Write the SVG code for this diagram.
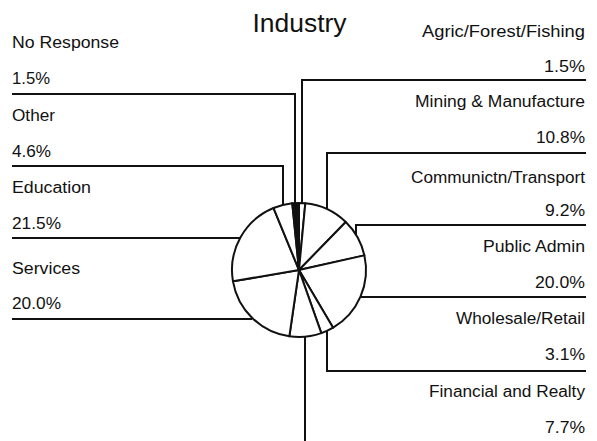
<svg xmlns="http://www.w3.org/2000/svg" width="597" height="441" viewBox="0 0 597 441">
<style>
text{font-family:"Liberation Sans",Arial,sans-serif;font-size:16px;fill:#111}
.t{font-size:26px}
.r{text-anchor:end}
.s{fill:#fff;stroke:#111;stroke-width:2;stroke-linejoin:round}
.k{fill:#111;stroke:#111;stroke-width:2}
.c{fill:none;stroke:#111;stroke-width:2}
</style>
<rect width="597" height="441" fill="#fff"/>
<text class="t" x="299.5" y="32" text-anchor="middle" textLength="94" lengthAdjust="spacingAndGlyphs">Industry</text>
<g id="connectors">
<polyline class="c" points="12,94 295,94 295,204"/>
<polyline class="c" points="12,166 283,166 283,206"/>
<polyline class="c" points="12,238 240,238"/>
<polyline class="c" points="12,319 252,319"/>
<polyline class="c" points="586,80 302,80 302,203.5"/>
<polyline class="c" points="586,153 327,153 327,209"/>
<polyline class="c" points="586,225 356,225 356,235"/>
<polyline class="c" points="586,297 361,297"/>
<polyline class="c" points="586,371 327,371 327,331"/>
<polyline class="c" points="305,337 305,441"/>
</g>
<g id="agric">
<path class="s" d="M299,270 L299,203 A67,67 0 0 1 305.31,203.30 Z"/>
<text class="r" x="585" y="37" textLength="163" lengthAdjust="spacingAndGlyphs">Agric/Forest/Fishing</text>
<text class="r" x="585" y="72" textLength="41" lengthAdjust="spacingAndGlyphs">1.5%</text>
</g>
<g id="mining">
<path class="s" d="M299,270 L305.31,203.30 A67,67 0 0 1 345.77,222.03 Z"/>
<text class="r" x="585" y="107" textLength="170" lengthAdjust="spacingAndGlyphs">Mining &amp; Manufacture</text>
<text class="r" x="585" y="143" textLength="49" lengthAdjust="spacingAndGlyphs">10.8%</text>
</g>
<g id="communication">
<path class="s" d="M299,270 L345.77,222.03 A67,67 0 0 1 364.39,255.39 Z"/>
<text class="r" x="585" y="183" textLength="174" lengthAdjust="spacingAndGlyphs">Communictn/Transport</text>
<text class="r" x="585" y="216" textLength="40" lengthAdjust="spacingAndGlyphs">9.2%</text>
</g>
<g id="public-admin">
<path class="s" d="M299,270 L364.39,255.39 A67,67 0 0 1 333.10,327.67 Z"/>
<text class="r" x="585" y="252" textLength="102" lengthAdjust="spacingAndGlyphs">Public Admin</text>
<text class="r" x="585" y="288" textLength="50" lengthAdjust="spacingAndGlyphs">20.0%</text>
</g>
<g id="wholesale">
<path class="s" d="M299,270 L333.10,327.67 A67,67 0 0 1 321.30,333.18 Z"/>
<text class="r" x="585" y="324" textLength="129" lengthAdjust="spacingAndGlyphs">Wholesale/Retail</text>
<text class="r" x="585" y="360" textLength="40" lengthAdjust="spacingAndGlyphs">3.1%</text>
</g>
<g id="financial">
<path class="s" d="M299,270 L321.30,333.18 A67,67 0 0 1 289.35,336.30 Z"/>
<text class="r" x="585" y="397" textLength="156" lengthAdjust="spacingAndGlyphs">Financial and Realty</text>
<text class="r" x="585" y="433" textLength="40" lengthAdjust="spacingAndGlyphs">7.7%</text>
</g>
<g id="services">
<path class="s" d="M299,270 L289.35,336.30 A67,67 0 0 1 232.96,281.31 Z"/>
<text x="12" y="274" textLength="68" lengthAdjust="spacingAndGlyphs">Services</text>
<text x="12" y="309" textLength="49" lengthAdjust="spacingAndGlyphs">20.0%</text>
</g>
<g id="education">
<path class="s" d="M299,270 L232.96,281.31 A67,67 0 0 1 273.55,208.02 Z"/>
<text x="12" y="193" textLength="79" lengthAdjust="spacingAndGlyphs">Education</text>
<text x="12" y="229" textLength="49" lengthAdjust="spacingAndGlyphs">21.5%</text>
</g>
<g id="other">
<path class="s" d="M299,270 L273.55,208.02 A67,67 0 0 1 292.28,203.34 Z"/>
<text x="12" y="121" textLength="43" lengthAdjust="spacingAndGlyphs">Other</text>
<text x="12" y="157" textLength="39" lengthAdjust="spacingAndGlyphs">4.6%</text>
</g>
<g id="no-response">
<path class="k" d="M299,270 L292.28,203.34 A67,67 0 0 1 299,203 Z"/>
<text x="12" y="48" textLength="107" lengthAdjust="spacingAndGlyphs">No Response</text>
<text x="12" y="84" textLength="38" lengthAdjust="spacingAndGlyphs">1.5%</text>
</g>
</svg>
